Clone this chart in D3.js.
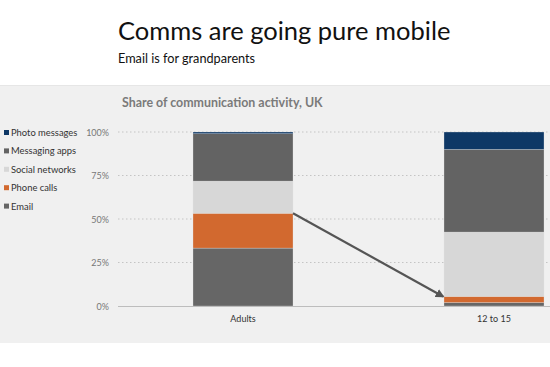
<!DOCTYPE html>
<html><head><meta charset="utf-8">
<script src="https://cdn.jsdelivr.net/npm/d3@7"></script>
<style>
body{margin:0;background:#fff;}
svg{display:block;font-family:Lato,"Open Sans",sans-serif;}
</style></head>
<body>
<svg id="chart" width="550" height="367"></svg>
<script>
const categories = ["Adults", "12 to 15"];
const seriesNames = ["Email", "Phone calls", "Social networks", "Messaging apps", "Photo messages"];
const email = [33.3, 2.0];
const phoneCalls = [20.0, 3.5];
const socialNetworks = [18.5, 37.0];
const messagingApps = [27.2, 47.5];
const photoMessages = [1.0, 10.0];
const yTicks = [0, 25, 50, 75, 100];
const colors = ["#666666", "#d2692f", "#d7d7d7", "#636363", "#0e3866"];

const svg = d3.select("#chart");
// background panel
svg.append("rect").attr("x",0).attr("y",86).attr("width",550).attr("height",257).attr("fill","#f0f0f0");
svg.append("line").attr("x1",0).attr("x2",550).attr("y1",85.5).attr("y2",85.5).attr("stroke","#e6e6e6");

svg.append("text").attr("x",118).attr("y",40).attr("font-size",25.5).attr("fill","#111")
  .text("Comms are going pure mobile");
svg.append("text").attr("x",118).attr("y",63).attr("font-size",12.7).attr("fill","#111")
  .text("Email is for grandparents");
svg.append("text").attr("x",122).attr("y",106.5).attr("font-size",12.4).attr("font-weight","bold").attr("fill","#7a7a7a")
  .text("Share of communication activity, UK");

const y = d3.scaleLinear().domain([0,100]).range([306,132]);
const x = d3.scalePoint().domain(categories).range([243,494]);
const barW = 100;

// gridlines
const g = svg.append("g");
g.selectAll("line.grid").data(yTicks.filter(t=>t>0)).join("line")
  .attr("x1",118).attr("x2",550).attr("y1",d=>y(d)).attr("y2",d=>y(d))
  .attr("stroke","#c4c4c4").attr("stroke-dasharray","1.5,2.5");
g.selectAll("text.yt").data(yTicks).join("text")
  .attr("x",109).attr("y",d=>y(d)+3.5).attr("text-anchor","end").attr("font-size",9).attr("fill","#777")
  .text(d=>d+"%");

// stacked bars
const series = [email, phoneCalls, socialNetworks, messagingApps, photoMessages];
const rows = categories.map((c,i)=>{const o={cat:c}; seriesNames.forEach((s,j)=>o[s]=series[j][i]); return o;});
const stacked = d3.stack().keys(seriesNames)(rows);
svg.append("g").selectAll("g").data(stacked).join("g")
  .attr("fill",(d,i)=>colors[i])
  .selectAll("rect").data(d=>d).join("rect")
  .attr("x",d=>x(d.data.cat)-barW/2).attr("width",barW)
  .attr("y",d=>y(d[1])).attr("height",d=>y(d[0])-y(d[1]))
  .attr("stroke","#e4e4e4").attr("stroke-width",0.3);

// baseline
svg.append("line").attr("x1",118).attr("x2",550).attr("y1",306.5).attr("y2",306.5).attr("stroke","#bdbdbd").attr("stroke-width",1);

// x labels
svg.selectAll("text.xl").data(categories).join("text")
  .attr("x",d=>x(d)).attr("y",322).attr("text-anchor","middle").attr("font-size",9).attr("fill","#333")
  .text(d=>d);

// legend
const legendOrder = ["Photo messages","Messaging apps","Social networks","Phone calls","Email"];
const lg = svg.append("g");
legendOrder.forEach((name,i)=>{
  const yy = 133.5 + i*18.4;
  lg.append("rect").attr("x",4).attr("y",yy-3.5).attr("width",5).attr("height",5).attr("fill",colors[seriesNames.indexOf(name)]);
  lg.append("text").attr("x",11).attr("y",yy+2.5).attr("font-size",9.4).attr("fill","#333").text(name);
});

// arrow
const defs = svg.append("defs");
defs.append("marker").attr("id","ah").attr("viewBox","0 0 10 10").attr("refX",8).attr("refY",5)
  .attr("markerWidth",4).attr("markerHeight",4).attr("orient","auto")
  .append("path").attr("d","M0,0L10,5L0,10z").attr("fill","#555");
const a0 = x(categories[0]) + barW/2, a1 = x(categories[1]) - barW/2;
svg.append("line")
  .attr("x1",a0).attr("y1",y(email[0]+phoneCalls[0]))
  .attr("x2",a1-1).attr("y2",y(email[1]+phoneCalls[1]))
  .attr("stroke","#555").attr("stroke-width",2.2).attr("marker-end","url(#ah)");
</script>
</body></html>
